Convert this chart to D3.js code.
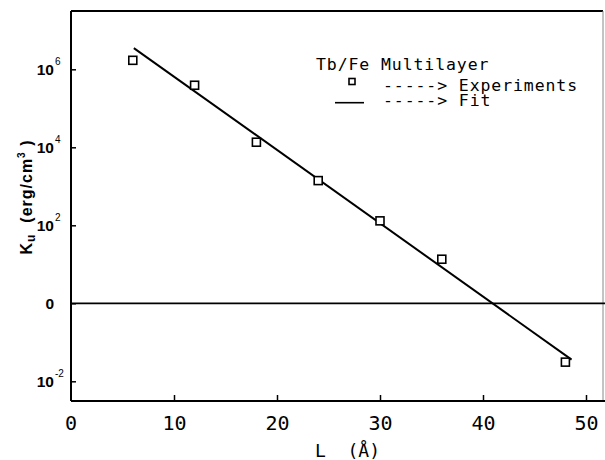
<!DOCTYPE html>
<html>
<head>
<meta charset="utf-8">
<script src="https://cdn.jsdelivr.net/npm/d3@7"></script>
<style>
  body { margin: 0; background: #fff; }
  svg { display: block; }
</style>
</head>
<body>
<div id="chart"></div>
<script>
// measured data: layer thickness L (Å) and anisotropy Ku (erg/cm^3)
const expL = [6, 12, 18, 24, 30, 36, 48];
const expK = [1.7e6, 3.9e5, 1.35e4, 1.4e3, 130, 13.5, 0.031];

// fitted straight line on the log plot (end points)
const fitL = [6.1, 48.6];
const fitK = [3.5e6, 0.036];

const xTicks = [10, 20, 30, 40, 50];
const yTicks = [1e6, 1e4, 1e2, 1, 1e-2];
const yTickLabels = [["10", "6"], ["10", "4"], ["10", "2"], ["0", ""], ["10", "-2"]];

const MARGIN = { LEFT: 71, TOP: 11, RIGHT: 2, BOTTOM: 59 };
const WIDTH = 605 - MARGIN.LEFT - MARGIN.RIGHT;
const HEIGHT = 460 - MARGIN.TOP - MARGIN.BOTTOM;

const MONO = "'DejaVu Sans Mono', monospace";
const SANS = "'Liberation Sans', Arial, sans-serif";

const svg = d3.select("#chart").append("svg")
    .attr("width", 605)
    .attr("height", 460);

const g = svg.append("g")
    .attr("transform", `translate(${MARGIN.LEFT}, ${MARGIN.TOP})`);

const x = d3.scaleLinear()
    .domain([0, 50])
    .range([0, 515]);

// 1e6 sits at y=69.3 and 1e-2 at y=381.3 in page coords
const y = d3.scaleLog()
    .domain([1e-2, 1e6])
    .range([381.3 - MARGIN.TOP, 69.3 - MARGIN.TOP]);

// frame
g.append("line").attr("x1", 0).attr("x2", WIDTH).attr("y1", 0).attr("y2", 0)
    .attr("stroke", "#000").attr("stroke-width", 2);
g.append("line").attr("x1", WIDTH).attr("x2", WIDTH).attr("y1", 0).attr("y2", HEIGHT)
    .attr("stroke", "#888").attr("stroke-width", 1);

// x axis, ticks pointing up
const xAxisGroup = g.append("g")
    .attr("transform", `translate(0, ${HEIGHT})`)
    .call(d3.axisBottom(x).tickValues(xTicks).tickSize(-6).tickSizeOuter(0).tickFormat(d3.format("d")));
xAxisGroup.select(".domain").remove();
xAxisGroup.append("line").attr("x1", 0).attr("x2", 605 - MARGIN.LEFT)
    .attr("stroke", "#000").attr("stroke-width", 2);
xAxisGroup.selectAll(".tick line").attr("stroke-width", 1.5);
xAxisGroup.selectAll(".tick text")
    .attr("y", 29).attr("dy", null)
    .attr("font-family", MONO).attr("font-size", "20px").attr("fill", "#000");
xAxisGroup.append("text")
    .attr("x", x(0)).attr("y", 29)
    .attr("text-anchor", "middle")
    .attr("font-family", MONO).attr("font-size", "20px").attr("fill", "#000")
    .text("0");

// y axis, ticks pointing right
const yAxisGroup = g.append("g")
    .call(d3.axisLeft(y).tickValues(yTicks).tickSize(-5).tickSizeOuter(0).tickFormat(""));
yAxisGroup.select(".domain").remove();
yAxisGroup.append("line").attr("y1", 0).attr("y2", HEIGHT)
    .attr("stroke", "#000").attr("stroke-width", 2);
yAxisGroup.selectAll(".tick line").attr("stroke-width", 1.5);
yAxisGroup.selectAll(".tick").each(function(d, i) {
    const t = d3.select(this);
    t.select("text").remove();
    const lab = yTickLabels[i];
    t.append("text")
        .attr("x", -17).attr("y", 5.5)
        .attr("text-anchor", "end")
        .attr("fill", "#000")
        .attr("font-family", SANS).attr("font-weight", "bold").attr("font-size", "15.5px")
        .text(lab[0]);
    if (lab[1]) {
        t.append("text")
            .attr("x", -16).attr("y", -5)
            .attr("text-anchor", "start")
            .attr("fill", "#000")
            .attr("font-family", SANS).attr("font-size", "10px")
            .text(lab[1]);
    }
});

// line at 10^0 across the plot
g.append("line")
    .attr("x1", 0).attr("x2", 605 - MARGIN.LEFT)
    .attr("y1", y(1)).attr("y2", y(1))
    .attr("stroke", "#000").attr("stroke-width", 1.8);

// fit line
const line = d3.line().x(d => x(d[0])).y(d => y(d[1]));
g.append("path")
    .datum(fitL.map((l, i) => [l, fitK[i]]))
    .attr("d", line)
    .attr("fill", "none").attr("stroke", "#000").attr("stroke-width", 2);

// experimental points
g.selectAll("rect.pt")
    .data(expL.map((l, i) => [l, expK[i]]))
    .enter().append("rect")
    .attr("class", "pt")
    .attr("x", d => x(d[0]) - 4)
    .attr("y", d => y(d[1]) - 4)
    .attr("width", 8).attr("height", 8)
    .attr("fill", "#fff").attr("stroke", "#000").attr("stroke-width", 1.6);

// axis labels
svg.append("text")
    .attr("x", 315).attr("y", 457)
    .attr("font-family", MONO).attr("font-size", "18px")
    .attr("xml:space", "preserve")
    .text("L  (Å)");

const yLabel = svg.append("text")
    .attr("transform", "translate(32, 197) rotate(-90)")
    .attr("text-anchor", "middle")
    .attr("letter-spacing", "1px")
    .attr("font-family", SANS).attr("font-weight", "bold").attr("font-size", "16px");
yLabel.append("tspan").text("K");
yLabel.append("tspan").attr("font-size", "12px").attr("dy", 3).text("u");
yLabel.append("tspan").attr("dy", -3).attr("xml:space", "preserve").text("  (erg/cm");
yLabel.append("tspan").attr("font-size", "10px").attr("dy", -7).text("3");
yLabel.append("tspan").attr("dy", 7).text(" )");

// legend
const legend = svg.append("g")
    .attr("font-family", MONO).attr("font-size", "16.5px")
    .attr("letter-spacing", "0.9px");
legend.append("text").attr("x", 316).attr("y", 70).text("Tb/Fe Multilayer");
legend.append("rect").attr("x", 349).attr("y", 78.5).attr("width", 6).attr("height", 6)
    .attr("fill", "#fff").attr("stroke", "#000").attr("stroke-width", 1.6);
legend.append("text").attr("x", 383).attr("y", 90.5).text("-----> Experiments");
legend.append("line").attr("x1", 335).attr("x2", 364).attr("y1", 102.7).attr("y2", 102.7)
    .attr("stroke", "#000").attr("stroke-width", 1.6);
legend.append("text").attr("x", 383).attr("y", 106).text("-----> Fit");
</script>
</body>
</html>
